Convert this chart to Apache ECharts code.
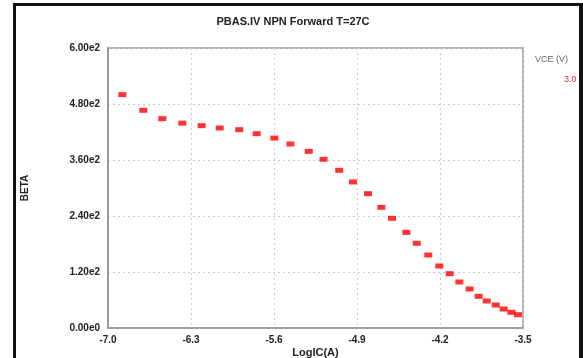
<!DOCTYPE html>
<html>
<head>
<meta charset="utf-8">
<script src="https://cdn.jsdelivr.net/npm/echarts@6/dist/echarts.min.js"></script>
<style>
html,body{margin:0;padding:0;background:#fff;}
#c{width:583px;height:358px;}
</style>
</head>
<body>
<div id="c"></div>
<script>
const logIC = [-6.879,-6.702,-6.542,-6.373,-6.210,-6.058,-5.893,-5.746,-5.597,-5.462,
  -5.307,-5.182,-5.050,-4.934,-4.807,-4.695,-4.605,-4.484,-4.396,-4.299,
  -4.206,-4.118,-4.037,-3.950,-3.874,-3.806,-3.730,-3.663,-3.598,-3.542];
const beta = [500,466.5,448.5,439,433.5,428.6,425,416.4,407,394.3,
  378.6,361.5,338,313,287.8,258.6,235,205,181.5,156.4,
  132.9,116.4,98.6,83.6,67.9,57.9,49.3,40.7,33.6,28.5];
const seriesName = "3.0";
const legendTitle = "VCE (V)";
const xTickLabels = ["-7.0","-6.3","-5.6","-4.9","-4.2","-3.5"];
const yTickLabels = ["0.00e0","1.20e2","2.40e2","3.60e2","4.80e2","6.00e2"];

const chart = echarts.init(document.getElementById('c'), null, {renderer:'canvas'});
const font = 'Liberation Sans, Arial, sans-serif';
chart.setOption({
  animation:false,
  backgroundColor:'#fff',
  title:{text:'PBAS.IV NPN Forward T=27C', left:288, top:11, textAlign:'center',
    textStyle:{fontFamily:font, fontSize:11, fontWeight:'bold', color:'#222'}},
  grid:{left:108, right:60, top:48, bottom:30, show:true, borderColor:'#999', borderWidth:1.5,
    containLabel:false, outerBoundsMode:'none'},
  xAxis:{type:'value', min:-7, max:-3.5, interval:0.7,
    name:'LogIC(A)', nameLocation:'middle', nameGap:19, nameMoveOverlap:false,
    nameTextStyle:{fontFamily:font, fontSize:11, fontWeight:'bold', color:'#222'},
    axisLine:{show:true, lineStyle:{color:'#999', width:1.5}},
    axisTick:{show:false},
    axisLabel:{fontFamily:font, fontSize:10, fontWeight:'bold', color:'#222', margin:7,
      formatter:(v)=>{const i=Math.round((v+7)/0.7); return xTickLabels[i]||'';}},
    splitLine:{show:true, lineStyle:{color:'#ccc', type:[2,3], width:1}}},
  yAxis:{type:'value', min:0, max:600, interval:120,
    name:'BETA', nameLocation:'middle', nameGap:78, nameRotate:90, nameMoveOverlap:false,
    nameTextStyle:{fontFamily:font, fontSize:10, fontWeight:'bold', color:'#222'},
    axisLine:{show:true, lineStyle:{color:'#999', width:2}},
    axisTick:{show:false},
    axisLabel:{fontFamily:font, fontSize:10, fontWeight:'bold', color:'#222', margin:8,
      formatter:(v)=>{const i=Math.round(v/120); return yTickLabels[i]||'';}},
    splitLine:{show:true, lineStyle:{color:'#ccc', type:[2,3], width:1}}},
  series:[{name:seriesName, type:'scatter', symbol:'rect', symbolSize:[8,5],
    itemStyle:{color:'#f00'},
    data: logIC.map((x,i)=>[x,beta[i]])}],
  graphic:[
    {type:'rect', shape:{x:13, y:3, width:570, height:3}, style:{fill:'#111'}},
    {type:'rect', shape:{x:13, y:3, width:3, height:355}, style:{fill:'#111'}},
    {type:'rect', shape:{x:579, y:3, width:4, height:355}, style:{fill:'#111'}},
    {type:'text', left:535, top:55, style:{text:legendTitle, font:'9px '+font, fill:'#666'}},
    {type:'text', left:564, top:75, style:{text:seriesName, font:'9px '+font, fill:'#e03030'}}
  ]
});
</script>
</body>
</html>
